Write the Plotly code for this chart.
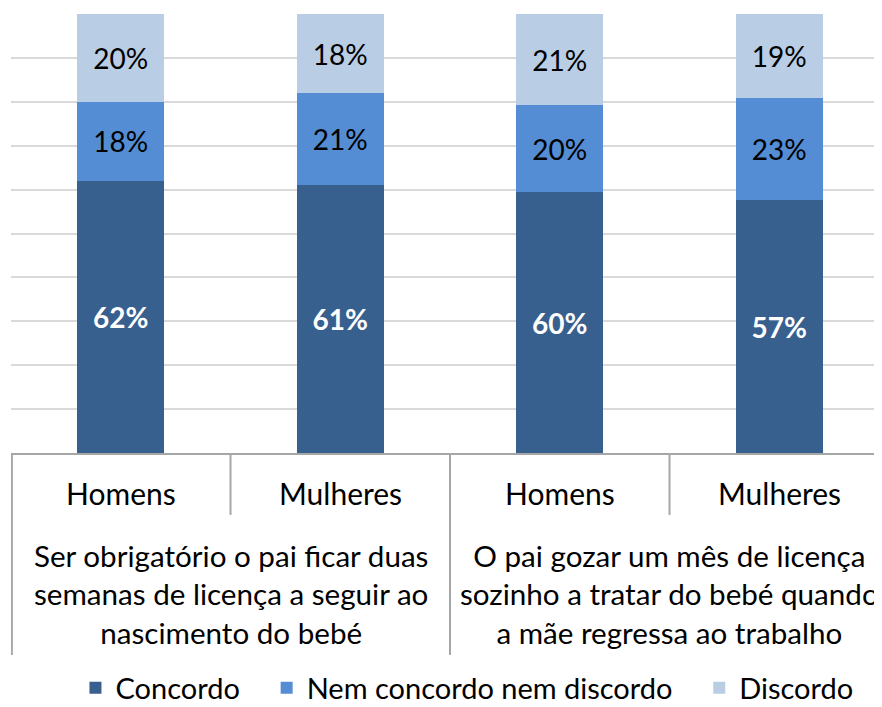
import plotly.graph_objects as go

groups = [
    "Ser obrigatório o pai ficar duas<br>semanas de licença a seguir ao<br>nascimento do bebé",
    "O pai gozar um mês de licença<br>sozinho a tratar do bebé quando<br>a mãe regressa ao trabalho",
]
genders = ["Homens", "Mulheres", "Homens", "Mulheres"]
group_of_bar = [0, 0, 1, 1]

series_names = ["Concordo", "Nem concordo nem discordo", "Discordo"]
concordo = [62, 61, 60, 57]
nem = [18, 21, 20, 23]
discordo = [20, 18, 21, 19]

colors = ["#37608f", "#548dd4", "#b9cde5"]
text_colors = ["white", "black", "black"]
text_weights = ["bold", "normal", "normal"]

FONT = "Lato, Calibri, Carlito, sans-serif"
x = list(range(len(genders)))

fig = go.Figure()
for k, (name, vals, col, tc, tw) in enumerate(zip(series_names, [concordo, nem, discordo], colors, text_colors, text_weights)):
    legend_name = name + ("\u2003" if k < len(series_names) - 1 else "")
    fig.add_trace(go.Bar(
        x=x, y=vals, name=legend_name,
        marker=dict(color=col, line=dict(width=0)),
        width=0.396,
        text=[f"{v}%" for v in vals],
        textposition="inside",
        insidetextanchor="middle",
        textangle=0,
        constraintext="none",
        textfont=dict(family=FONT, size=28, color=tc, weight=tw),
        hoverinfo="skip",
    ))

# inner category labels
for i, g in enumerate(genders):
    fig.add_annotation(x=i, y=-0.092, xref="x", yref="paper", text=g,
                       showarrow=False, yanchor="middle",
                       font=dict(family=FONT, size=30, color="black"))
# outer group labels
for gi, gname in enumerate(groups):
    idx = [i for i, gg in enumerate(group_of_bar) if gg == gi]
    cx = (idx[0] + idx[-1]) / 2
    fig.add_annotation(x=cx, y=-0.3215, xref="x", yref="paper", text=gname,
                       showarrow=False, yanchor="middle", align="center",
                       font=dict(family=FONT, size=29.6, color="black"))

# dividers
div_col = "#a6a6a6"
for i in range(len(genders) + 1):
    full = (i % 2 == 0)
    xx = i - 0.5 + (0.004 if i == 0 else 0)
    fig.add_shape(type="line", xref="x", yref="paper",
                  x0=xx, x1=xx, y0=0, y1=-0.46 if full else -0.141,
                  line=dict(color=div_col, width=2), layer="above")

fig.update_layout(
    width=882, height=707,
    margin=dict(l=3, r=8, t=6, b=262, autoexpand=False),
    barmode="stack",
    barnorm="percent",
    plot_bgcolor="white", paper_bgcolor="white",
    font=dict(family=FONT, size=30, color="black"),
    showlegend=True,
    legend=dict(orientation="h", x=0.5235, xanchor="center", y=-0.5353, yanchor="middle",
                font=dict(family=FONT, size=29, color="black"),
                traceorder="normal", itemwidth=30),
    xaxis=dict(range=[-0.5, 3.468], showticklabels=False, ticks="", showgrid=False,
               showline=True, linecolor="#a6a6a6", linewidth=2, zeroline=False, fixedrange=True),
    yaxis=dict(range=[0, 100], dtick=10, showticklabels=False, ticks="", showgrid=True,
               gridcolor="#d9d9d9", gridwidth=2, zeroline=False, showline=False, fixedrange=True),
)

fig.write_html("out.html")
